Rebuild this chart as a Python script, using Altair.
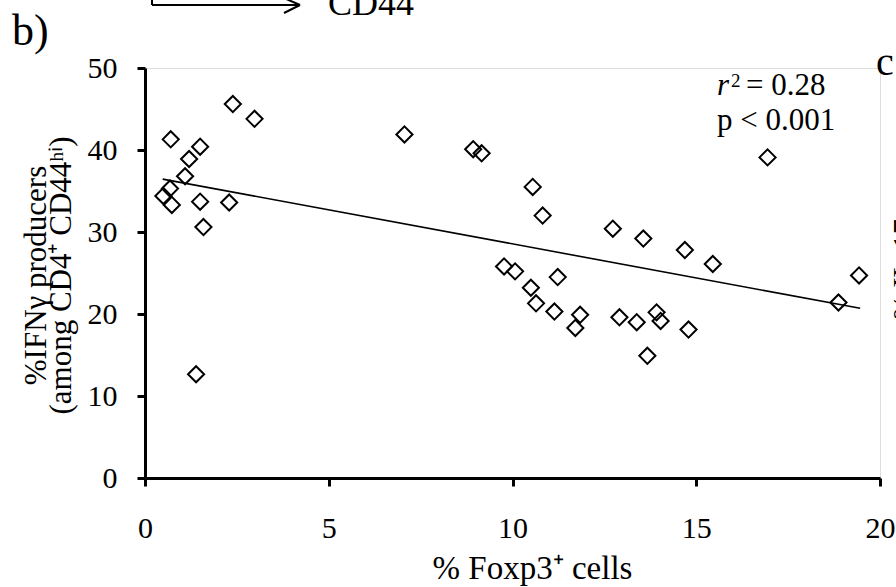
import altair as alt
import pandas as pd

# % Foxp3+ cells (x) and % IFNg producers (y)
foxp3 = [2.39, 2.98, 0.70, 1.50, 1.20, 1.09, 0.68, 0.50, 0.73, 1.50, 2.29, 1.59, 1.39,
         7.06, 8.93, 9.16, 10.55, 10.82, 12.73, 13.56, 14.69, 15.45, 9.77, 10.07, 11.23,
         10.50, 10.64, 11.14, 11.84, 11.71, 12.91, 13.38, 13.92, 14.03, 14.79, 13.67,
         16.94, 18.87, 19.43]
ifng = [45.6, 43.8, 41.3, 40.4, 38.9, 36.8, 35.3, 34.4, 33.3, 33.7, 33.6, 30.6, 12.65,
        41.9, 40.1, 39.6, 35.5, 32.0, 30.4, 29.2, 27.8, 26.1, 25.8, 25.2, 24.5,
        23.2, 21.3, 20.3, 19.9, 18.3, 19.6, 19.0, 20.2, 19.15, 18.1, 14.9,
        39.1, 21.4, 24.7]

# regression line end points
fit_x = [0.48, 19.46]
fit_y = [36.45, 20.7]

x_ticks = [0, 5, 10, 15, 20]
y_ticks = [0, 10, 20, 30, 40, 50]

pts = pd.DataFrame({"foxp3": foxp3, "ifng": ifng})
fit = pd.DataFrame({"foxp3": fit_x, "ifng": fit_y})

FONT = "Liberation Serif"

xscale = alt.Scale(domain=[0, 20], nice=False, zero=False)
yscale = alt.Scale(domain=[0, 50], nice=False)

xaxis = alt.Axis(values=x_ticks, title="% Foxp3⁺ cells", grid=False,
                 domainColor="black", domainWidth=3, tickColor="black", tickWidth=3,
                 tickSize=8, labelFont=FONT, labelFontSize=30, labelColor="black",
                 labelPadding=27, titleFont=FONT, titleFontSize=33, titleFontWeight="normal",
                 titleColor="black", titleX=387, titleY=100, titleBaseline="alphabetic",
                 titleAlign="center", labelFlush=False)
yaxis = alt.Axis(values=y_ticks, title=["%IFNγ producers", "(among CD4⁺ CD44ʰⁱ)"], grid=False,
                 domainColor="black", domainWidth=3, tickColor="black", tickWidth=3,
                 tickSize=8, labelFont=FONT, labelFontSize=30, labelColor="black",
                 labelPadding=20, titleFont=FONT, titleFontSize=31, titleFontWeight="normal",
                 titleColor="black", titleX=-100, titleY=207, titleBaseline="alphabetic",
                 titleAlign="center", titleAngle=270, titleLineHeight=25, labelFlush=False)

points = alt.Chart(pts).mark_point(shape="diamond", filled=False, color="black",
                                   strokeWidth=2, size=260, opacity=1).encode(
    x=alt.X("foxp3:Q", scale=xscale, axis=xaxis),
    y=alt.Y("ifng:Q", scale=yscale, axis=yaxis),
)

line = alt.Chart(fit).mark_line(color="black", strokeWidth=1.6).encode(
    x=alt.X("foxp3:Q", scale=xscale),
    y=alt.Y("ifng:Q", scale=yscale),
)

def txt(s, x, y, size=31, style="normal", weight="normal", angle=0, align="left"):
    return alt.Chart().mark_text(text=s, font=FONT, fontSize=size, fontStyle=style,
                                 fontWeight=weight, color="black", align=align,
                                 baseline="alphabetic", angle=angle).encode(
        x=alt.value(x), y=alt.value(y))

def seg(x1, y1, x2, y2, w=2):
    return alt.Chart().mark_rule(color="black", strokeWidth=w).encode(
        x=alt.value(x1), y=alt.value(y1), x2=alt.value(x2), y2=alt.value(y2))

annots = [
    txt("r", 572, 27, style="italic"),
    txt("2", 586, 19, size=19),
    txt("= 0.28", 601, 27),
    txt("p < 0.001", 572, 62),
    txt("b)", -133, -23, size=44),
    txt("CD44", 183, -53, size=36),
    txt("c", 731, 7, size=40),
    txt("% IL-17", 768, 252, size=30, angle=270),
    seg(7, -70, 7, -63),
    seg(7, -63, 155, -63),
    seg(155, -63, 139, -70),
    seg(155, -63, 139, -55),
]

chart = alt.layer(line, points, *annots).properties(
    width=735, height=410,
    autosize=alt.AutoSizeParams(type="none"),
    padding={"left": 145, "top": 68, "right": 16, "bottom": 109},
).configure_view(stroke=None).configure(background="white")

chart.save("out.html", embed_options={"renderer": "svg", "actions": False})
